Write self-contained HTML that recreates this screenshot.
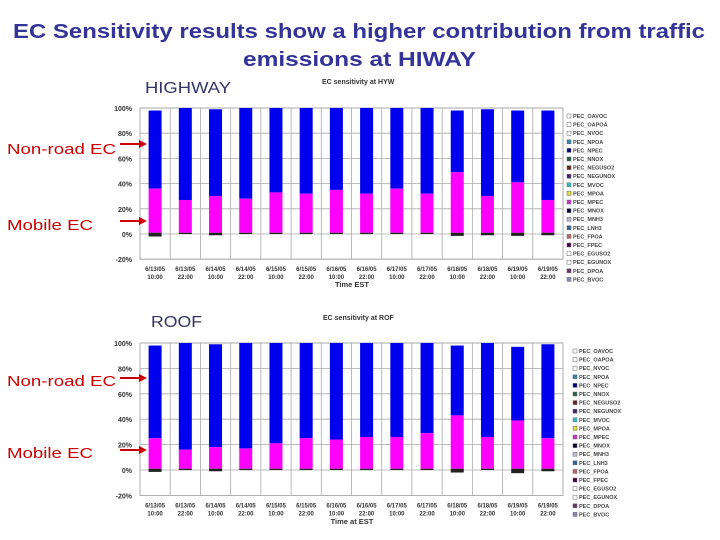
<!DOCTYPE html>
<html><head><meta charset="utf-8"><style>
body{margin:0;background:#fff;width:720px;height:540px;overflow:hidden;font-family:"Liberation Sans",sans-serif}
svg{position:absolute;left:0;top:0}
</style></head><body>
<svg id="s" width="720" height="540">
<text x="13" y="38" textLength="692" lengthAdjust="spacingAndGlyphs" font-size="20" font-weight="bold" fill="#333399">EC Sensitivity results show a higher contribution from traffic</text>
<text x="243" y="66" textLength="233" lengthAdjust="spacingAndGlyphs" font-size="20" font-weight="bold" fill="#333399">emissions at HIWAY</text>
<text x="145" y="93" textLength="86" lengthAdjust="spacingAndGlyphs" font-size="16" fill="#333366">HIGHWAY</text>
<text x="151" y="327" textLength="51" lengthAdjust="spacingAndGlyphs" font-size="16" fill="#333366">ROOF</text>
<g font-size="15" fill="#cc0000">
<text x="7" y="154" textLength="109" lengthAdjust="spacingAndGlyphs">Non-road EC</text>
<text x="7" y="230" textLength="86" lengthAdjust="spacingAndGlyphs">Mobile EC</text>
<text x="7" y="386" textLength="109" lengthAdjust="spacingAndGlyphs">Non-road EC</text>
<text x="7" y="458" textLength="86" lengthAdjust="spacingAndGlyphs">Mobile EC</text>
</g>
</svg>
<script>
const categories=["6/13/05|10:00","6/13/05|22:00","6/14/05|10:00","6/14/05|22:00","6/15/05|10:00","6/15/05|22:00","6/16/05|10:00","6/16/05|22:00","6/17/05|10:00","6/17/05|22:00","6/18/05|10:00","6/18/05|22:00","6/19/05|10:00","6/19/05|22:00"];
const hywMobile=[36,27,30,28,33,32,35,32,36,32,49,30,41,27];
const hywTotal=[98,100,99,100,100,100,100,100,100,100,98,99,98,98];
const hywNeg=[-2,0,-1,0,0,0,0,0,0,0,-1.5,-1,-1.5,-1];
const rofMobile=[25,16,18,17,21,25,24,26,26,29,43,26,39,25];
const rofTotal=[98,100,99,100,100,100,100,100,100,100,98,100,97,99];
const rofNeg=[-1.5,0,-1,0,0,0,0,0,0,0,-2,0,-2.5,-1];
const yTicks=[-20,0,20,40,60,80,100];
const legendTop=["PEC_OAVOC","PEC_OAPOA","PEC_NVOC","PEC_NPOA","PEC_NPEC","PEC_NNOX","PEC_NEGUSO2","PEC_NEGUNOX","PEC_MVOC","PEC_MPOA","PEC_MPEC","PEC_MNOX","PEC_MNH3","PEC_LNH3","PEC_FPOA","PEC_FPEC","PEC_EGUSO2","PEC_EGUNOX","PEC_DPOA","PEC_BVOC"];
const legendColors=["#fff","#fff","#fff","#38a","#00007f","#264","#622","#426","#3bc","#dd3","#c3c","#003","#bbc","#369","#b66","#404","#fff","#fff","#636","#88b"];
const NS="http://www.w3.org/2000/svg",svg=document.getElementById('s');
function mk(t,a,p){const e=document.createElementNS(NS,t);for(const k in a)e.setAttribute(k,a[k]);(p||svg).appendChild(e);return e;}
function chart(o){
  const g=mk('g',{});
  
  
  const L=140,R=563,n=categories.length,cw=(R-L)/n;
  const y=v=>o.y0-(v/20)*o.step;
  const x=i=>L+cw*i;
  mk('rect',{x:L,y:y(100),width:R-L,height:y(-20)-y(100),fill:'#fff',stroke:'#999','stroke-width':0.8},g);
  yTicks.forEach(t=>{
    mk('line',{x1:L,x2:R,y1:y(t),y2:y(t),stroke:'#aaa','stroke-width':0.8},g);
    const tx=mk('text',{x:L-8,y:y(t)+3,'text-anchor':'end','font-size':7,'font-weight':'bold',fill:'#333'},g);tx.textContent=t+'%';
  });
  for(let i=1;i<n;i++)mk('line',{x1:x(i),x2:x(i),y1:y(100),y2:y(-20),stroke:'#aaa','stroke-width':0.8},g);
  categories.forEach((c,i)=>{
    const bx=x(i)+cw/2-6.5,bw=13;
    const b=mk('rect',{x:bx,y:y(o.total[i]),width:bw,height:y(o.mobile[i])-y(o.total[i]),fill:'#0000ee'},g);
    
    
    const m=mk('rect',{x:bx,y:y(o.mobile[i]),width:bw,height:y(1)-y(o.mobile[i]),fill:'#ff00ff'},g);
    
    
    mk('rect',{x:bx,y:y(1),width:bw,height:y(0)-y(1),fill:'#222'},g);
    if(o.neg[i]<0)mk('rect',{x:bx,y:y(0),width:bw,height:y(o.neg[i])-y(0),fill:'#222'},g);
    const p=c.split('|');
    const t1=mk('text',{x:x(i)+cw/2,y:y(-20)+12,'text-anchor':'middle','font-size':6,'font-weight':'bold',fill:'#333'},g);t1.textContent=p[0];
    const t2=mk('text',{x:x(i)+cw/2,y:y(-20)+20,'text-anchor':'middle','font-size':6,'font-weight':'bold',fill:'#333'},g);t2.textContent=p[1];
  });
  const tt=mk('text',{x:o.tx,y:o.ty,'font-size':7,'font-weight':'bold',fill:'#333'},g);tt.textContent=o.title;
  const at=mk('text',{x:352,y:o.ay,'text-anchor':'middle','font-size':7.5,'font-weight':'bold',fill:'#333'},g);at.textContent=o.axis;
  legendTop.forEach((l,i)=>{
    const ly=o.ly+i*o.ls;
    mk('rect',{x:o.lx,y:ly-4,width:4,height:4,fill:legendColors[i],stroke:'#666','stroke-width':0.5},g);
    const e=mk('text',{x:o.lx+6,y:ly,'font-size':5.5,'font-weight':'bold',fill:'#444'},g);e.textContent=l;
    
    
  });
  [o.a1,o.a2].forEach(ay=>{
    mk('line',{x1:120,x2:140,y1:ay,y2:ay,stroke:'#cc0000','stroke-width':2},g);
    mk('polygon',{points:`147,${ay} 139,${ay-4} 139,${ay+4}`,fill:'#cc0000'},g);
  });
}
chart({name:'hyw-chart',y0:234,step:25.2,mobile:hywMobile,total:hywTotal,neg:hywNeg,title:'EC sensitivity at HYW',tx:322,ty:84,axis:'Time EST',ay:287,lx:567,ly:118,ls:8.6,a1:144,a2:221});
chart({name:'roof-chart',y0:470,step:25.4,mobile:rofMobile,total:rofTotal,neg:rofNeg,title:'EC sensitivity at ROF',tx:323,ty:320,axis:'Time at EST',ay:524,lx:573,ly:353,ls:8.6,a1:378,a2:450});
</script>
</body></html>
